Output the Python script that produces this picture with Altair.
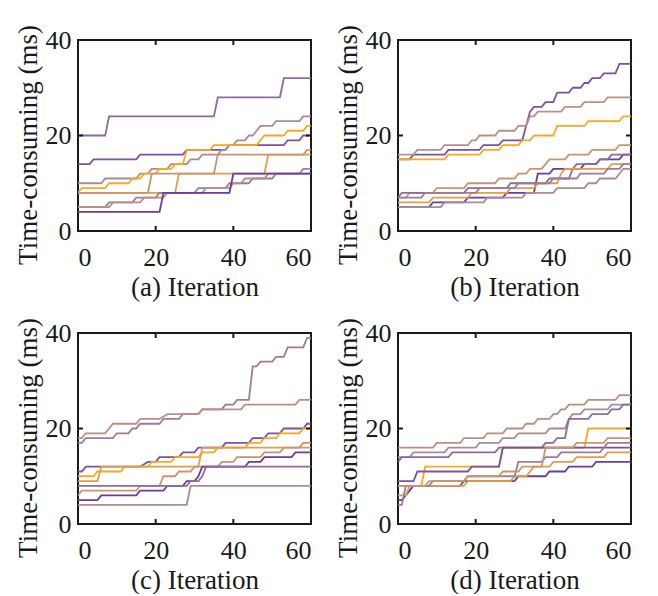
import altair as alt
import pandas as pd

# ---------------- data (breakpoints of each step curve) ----------------
ITER_TICKS = [0, 20, 40, 60]
TIME_TICKS = [0, 20, 40]
PALETTE = ["#6a3d9a", "#7a529e", "#8c6b9d", "#9c7d98", "#ab8a90",
           "#b98f84", "#c99570", "#e29d4a", "#f7a823"]
COLOR_KEYS = ["c0", "c1", "c2", "c3", "c4", "c5", "c6", "c7", "c8"]

# panel (a)
a1 = [(0,20),(7,20),(8,24),(35,24),(36,28),(52,28),(53,32),(60,32)]
a2 = [(0,14),(3,14),(4,15),(15,15),(16,16),(27,16),(28,17),(38,17),(39,18),(53,18),(54,19),(57,19),(58,20),(60,20)]
a3 = [(0,10),(6,10),(7,11),(15,11),(16,12),(18,12),(19,13),(23,13),(24,14),(28,14),(29,15),(31,15),(32,16),(36,16),(37,17),(38,17),(39,18),(40,18),(41,19),(43,19),(44,20),(45,20),(46,21),(47,22),(50,22),(51,23),(57,23),(58,24),(60,24)]
a4 = [(0,8),(1,9),(7,9),(8,10),(13,10),(14,11),(16,11),(17,12),(20,12),(21,13),(24,13),(25,14),(27,14),(28,17),(34,17),(35,18),(46,18),(47,19),(48,20),(53,20),(54,21),(58,21),(59,22),(60,22)]
a5 = [(0,8),(25,8),(26,12),(48,12),(49,16),(60,16)]
a6 = [(0,8),(18,8),(19,12),(35,12),(36,16),(58,16),(59,17),(60,17)]
a7 = [(0,5),(7,5),(8,6),(14,6),(15,7),(20,7),(21,8),(30,8),(31,9),(38,9),(39,10),(44,10),(45,11),(50,11),(51,12),(57,12),(58,13),(60,13)]
a8 = [(0,5),(8,5),(9,6),(16,6),(17,7),(22,7),(23,8),(32,8),(33,9),(39,9),(40,10),(42,10),(43,11),(48,11),(49,12),(60,12)]
a9 = [(0,4),(21,4),(22,8),(39,8),(40,12),(60,12)]

# panel (b)
b1 = [(0,15),(3,15),(4,16),(12,16),(13,17),(21,17),(22,18),(26,18),(27,19),(32,19),(34,25),(35,26),(37,26),(38,27),(40,27),(41,29),(44,29),(45,30),(47,30),(48,31),(49,31),(50,32),(52,32),(53,33),(56,33),(57,35),(60,35)]
b2 = [(0,16),(4,16),(5,17),(11,17),(12,18),(18,18),(19,19),(20,19),(21,20),(25,20),(26,21),(30,21),(31,22),(33,22),(34,24),(35,24),(36,25),(42,25),(43,26),(47,26),(48,27),(53,27),(54,28),(60,28)]
b3 = [(0,15),(12,15),(13,16),(21,16),(22,17),(26,17),(27,18),(31,18),(32,19),(34,19),(35,20),(40,20),(41,22),(48,22),(49,23),(57,23),(58,24),(60,24)]
b4 = [(0,7),(2,7),(3,8),(9,8),(10,9),(17,9),(18,10),(25,10),(26,11),(30,11),(31,12),(33,12),(34,13),(37,13),(38,14),(39,15),(43,15),(44,16),(49,16),(50,17),(56,17),(57,18),(60,18)]
b5 = [(0,5),(8,5),(9,6),(17,6),(18,7),(27,7),(28,8),(35,8),(36,12),(39,12),(40,13),(47,13),(48,14),(51,14),(52,15),(57,15),(58,16),(60,16)]
b6 = [(0,7),(1,8),(17,8),(18,9),(28,9),(29,10),(38,10),(39,11),(44,11),(45,13),(46,14),(51,14),(52,15),(54,15),(55,16),(60,16)]
b7 = [(0,5),(11,5),(12,6),(22,6),(23,7),(32,7),(33,8),(40,8),(41,9),(48,9),(49,10),(51,10),(52,11),(56,11),(57,12),(58,13),(60,13)]
b8 = [(0,6),(8,6),(9,7),(18,7),(19,8),(28,8),(29,9),(35,9),(36,10),(41,10),(42,12),(43,13),(54,13),(55,14),(60,14)]
b9 = [(0,7),(6,7),(7,8),(20,8),(21,9),(30,9),(31,10),(39,10),(40,11),(46,11),(47,12),(53,12),(54,13),(57,13),(58,14),(60,14)]

# panel (c)
c1 = [(0,17),(1,17),(2,18),(9,18),(10,19),(13,19),(14,20),(15,20),(16,21),(21,21),(22,22),(26,22),(27,23),(31,23),(32,24),(37,24),(38,25),(40,25),(41,26),(44,26),(45,33),(46,33),(47,34),(50,34),(51,35),(53,35),(54,37),(58,37),(59,39),(60,39)]
c2 = [(0,18),(1,18),(2,19),(7,19),(9,21),(15,21),(16,22),(21,22),(23,23),(31,23),(32,24),(42,24),(43,25),(56,25),(57,26),(60,26)]
c3 = [(0,11),(1,11),(2,12),(16,12),(18,13),(20,13),(21,14),(26,14),(27,15),(30,15),(31,16),(37,16),(38,17),(44,17),(45,18),(48,18),(49,19),(52,19),(53,20),(58,20),(59,21),(60,21)]
c4 = [(0,10),(4,10),(5,11),(11,11),(12,12),(18,12),(19,13),(24,13),(25,14),(31,14),(32,15),(35,15),(36,16),(43,16),(44,17),(47,17),(48,18),(51,18),(52,19),(57,19),(58,20),(60,20)]
c5 = [(0,9),(5,9),(6,12),(31,12),(32,16),(60,16)]
c6 = [(0,6),(1,7),(15,7),(16,8),(21,8),(22,10),(25,10),(26,11),(29,11),(30,12),(36,12),(37,13),(40,13),(41,14),(47,14),(48,15),(52,15),(53,16),(57,16),(58,17),(60,17)]
c7 = [(0,5),(5,5),(6,6),(15,6),(16,7),(22,7),(23,8),(27,8),(28,9),(30,9),(31,10),(32,12),(43,12),(44,13),(47,13),(48,14),(55,14),(56,15),(60,15)]
c8 = [(0,8),(28,8),(29,9),(31,9),(32,10),(33,12),(60,12)]
c9 = [(0,4),(28,4),(29,8),(60,8)]

# panel (d)
d1 = [(0,16),(9,16),(10,17),(16,17),(17,18),(22,18),(23,19),(27,19),(28,20),(32,20),(33,21),(35,21),(36,22),(39,22),(40,23),(41,23),(42,24),(43,24),(44,25),(48,25),(49,26),(56,26),(57,27),(60,27)]
d2 = [(0,14),(3,14),(4,15),(12,15),(13,16),(20,16),(21,17),(26,17),(27,18),(30,18),(31,19),(38,19),(39,20),(43,20),(44,22),(45,23),(47,23),(48,24),(54,24),(55,25),(60,25)]
d3 = [(0,13),(1,14),(13,14),(14,15),(25,15),(26,16),(37,16),(38,17),(40,17),(41,18),(43,18),(44,22),(49,22),(50,23),(54,23),(55,24),(57,24),(58,25),(60,25)]
d4 = [(0,8),(6,8),(7,12),(26,12),(27,16),(48,16),(49,20),(60,20)]
d5 = [(0,5),(1,5),(2,6),(3,7),(4,8),(16,8),(17,9),(30,9),(31,10),(38,10),(39,11),(43,11),(44,12),(50,12),(51,13),(60,13)]
d6 = [(0,6),(2,6),(3,8),(17,8),(18,9),(29,9),(30,10),(33,10),(34,11),(35,12),(39,12),(40,13),(45,13),(46,14),(53,14),(54,15),(60,15)]
d7 = [(0,9),(4,9),(5,11),(18,11),(19,12),(26,12),(27,16),(60,16)]
d8 = [(0,4),(1,4),(2,8),(8,8),(9,9),(17,9),(18,10),(30,10),(31,13),(37,13),(38,14),(41,14),(42,15),(52,15),(53,16),(54,17),(60,17)]
d9 = [(0,8),(7,8),(8,9),(17,9),(18,10),(26,10),(27,11),(31,11),(32,12),(37,12),(38,16),(45,16),(46,17),(53,17),(54,18),(60,18)]

PANELS = [
    ("(a) Iteration", [(a1,"c2"),(a2,"c1"),(a3,"c4"),(a4,"c8"),(a5,"c7"),(a6,"c6"),(a7,"c3"),(a8,"c5"),(a9,"c0")]),
    ("(b) Iteration", [(b1,"c1"),(b2,"c5"),(b3,"c8"),(b4,"c6"),(b5,"c0"),(b6,"c2"),(b7,"c4"),(b8,"c7"),(b9,"c3")]),
    ("(c) Iteration", [(c1,"c3"),(c2,"c5"),(c3,"c1"),(c4,"c8"),(c5,"c7"),(c6,"c6"),(c7,"c0"),(c8,"c2"),(c9,"c4")]),
    ("(d) Iteration", [(d1,"c5"),(d2,"c4"),(d3,"c2"),(d4,"c8"),(d5,"c0"),(d6,"c7"),(d7,"c1"),(d8,"c3"),(d9,"c6")]),
]

W, H = 233, 191
FONT = "Liberation Serif"
INK = "#1a1a1a"


def panel(title, series):
    rows = []
    for pts, key in series:
        for x, y in pts:
            rows.append({"s": key, "x": x, "y": y})
    df = pd.DataFrame(rows)
    xs = alt.Scale(domain=[0, 60], nice=False, zero=False)
    ys = alt.Scale(domain=[0, 40], nice=False, zero=False)
    x_enc = alt.X("x:Q", scale=xs, title=title,
                  axis=alt.Axis(values=ITER_TICKS, labelPadding=13, titlePadding=4))
    y_enc = alt.Y("y:Q", scale=ys, title="Time-consuming (ms)",
                  axis=alt.Axis(values=TIME_TICKS, labelPadding=7, titlePadding=3,
                                titleY=H / 2 + 9))
    lines = alt.Chart(df).mark_line(strokeWidth=1.8, clip=True).encode(
        x=x_enc, y=y_enc,
        color=alt.Color("s:N", scale=alt.Scale(domain=COLOR_KEYS, range=PALETTE), legend=None),
    )
    xt = pd.DataFrame({"x": ITER_TICKS[1:-1]})
    yt = pd.DataFrame({"y": TIME_TICKS[1:-1]})
    bottom = alt.Chart(xt).mark_rule(color=INK, strokeWidth=2, y2Offset=-5).encode(
        x=x_enc, y=alt.datum(0), y2=alt.datum(0))
    top = alt.Chart(xt).mark_rule(color=INK, strokeWidth=2, y2Offset=5).encode(
        x=x_enc, y=alt.datum(40), y2=alt.datum(40))
    left = alt.Chart(yt).mark_rule(color=INK, strokeWidth=2, x2Offset=5).encode(
        y=y_enc, x=alt.datum(0), x2=alt.datum(0))
    right = alt.Chart(yt).mark_rule(color=INK, strokeWidth=2, x2Offset=-5).encode(
        y=y_enc, x=alt.datum(60), x2=alt.datum(60))
    return alt.layer(lines, bottom, top, left, right).properties(width=W, height=H)


pa, pb, pc, pd_ = [panel(t, s) for t, s in PANELS]
chart = alt.vconcat(
    alt.hconcat(pa, pb, spacing=19),
    alt.hconcat(pc, pd_, spacing=19),
    spacing=15,
).properties(
    padding={"top": 15, "left": 4, "right": 4, "bottom": 0}
).configure_axis(
    labelFont=FONT, titleFont=FONT, labelFontSize=26, titleFontSize=27,
    titleFontWeight="normal", labelColor=INK, titleColor=INK,
    domain=False, ticks=False, grid=False,
).configure_view(stroke=INK, strokeWidth=2)

chart.save("out.html", embed_options={"renderer": "svg", "actions": False})
